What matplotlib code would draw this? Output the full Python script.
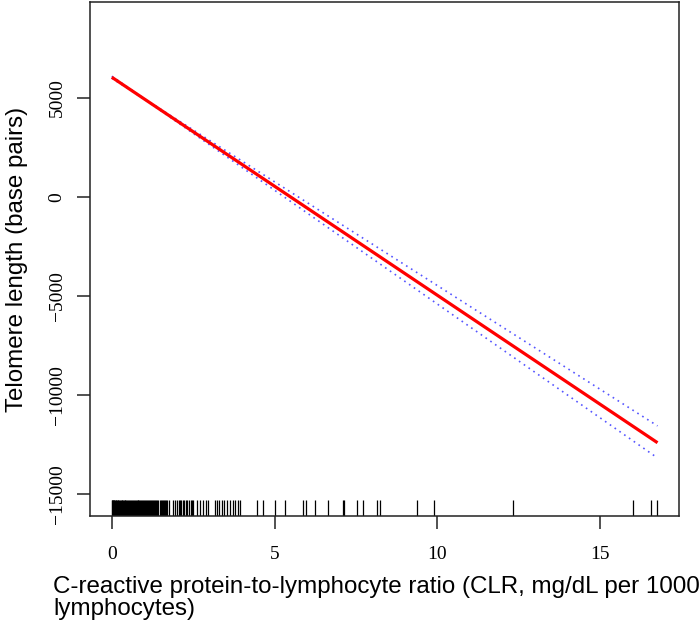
import matplotlib.pyplot as plt
import matplotlib.transforms as mtransforms

# fitted line and 95% CI
clr_x = [0.0, 16.77]
fit_y = [6050, -12410]
ci_x = [0.0, 1.0, 16.77]
ci_upper = [6100, 4960, -11560]
ci_lower = [6000, 4940, -13180]

# rug of observed CLR values
rug_x = [0.00, 0.02, 0.03, 0.05, 0.07, 0.08, 0.10, 0.12, 0.14, 0.16, 0.18, 0.20,
         0.22, 0.25, 0.27, 0.30, 0.32, 0.35, 0.37, 0.40, 0.42, 0.45, 0.48, 0.50,
         0.53, 0.55, 0.58, 0.61, 0.64, 0.67, 0.70, 0.73, 0.76, 0.79, 0.82, 0.85,
         0.88, 0.91, 0.94, 0.97, 1.00, 1.03, 1.06, 1.09, 1.12, 1.15, 1.18, 1.21,
         1.24, 1.27, 1.30, 1.33, 1.36, 1.40, 1.43, 1.47, 1.50, 1.54, 1.57, 1.61,
         1.64, 1.68, 1.71, 1.75, 1.89, 1.95, 2.00, 2.05, 2.09, 2.13, 2.18, 2.22,
         2.27, 2.32, 2.37, 2.42, 2.46, 2.51, 2.61, 2.71, 2.81, 2.90, 2.97, 3.17,
         3.22, 3.28, 3.38, 3.45, 3.53, 3.63, 3.72, 3.79, 3.89, 3.94, 4.45, 4.65,
         5.01, 5.32, 5.89, 5.97, 6.24, 6.65, 7.12, 7.14, 7.53, 7.71, 8.14, 8.23,
         9.37, 9.90, 12.34, 16.02, 16.56, 16.74]

xticks = [0, 5, 10, 15]
xtick_labels = ['0', '5', '10', '15']
yticks = [5000, 0, -5000, -10000, -15000]
ytick_labels = ['5000', '0', '\u22125000', '\u221210000', '\u221215000']

fig = plt.figure(figsize=(7, 6.21), dpi=100)
ax = fig.add_axes([90 / 700, 1 - 516 / 621, (679 - 90) / 700, (516 - 1.5) / 621])

ax.plot(ci_x, ci_upper, color='#5555ff', lw=1.2, linestyle=(0, (1, 2.5)))
ax.plot(ci_x, ci_lower, color='#5555ff', lw=1.2, linestyle=(0, (1, 2.5)))
ax.plot(clr_x, fit_y, color='red', lw=2.3, solid_capstyle='butt')

# rug along the bottom (x in data, height in axes fraction)
trans = mtransforms.blended_transform_factory(ax.transData, ax.transAxes)
ax.vlines(rug_x, 0, 0.031, transform=trans, color='black', lw=0.9)

ax.set_xlim(-0.67, 17.43)
ax.set_ylim(-16111, 9874)

ax.set_xticks(xticks)
ax.set_xticklabels(xtick_labels, family='Liberation Serif', fontsize=14)
ax.set_yticks(yticks)
ax.set_yticklabels(ytick_labels, family='Liberation Serif', fontsize=14,
                   rotation=90, va='center')
ax.tick_params(axis='both', length=9.5, width=1.1, color='#222222')
ax.tick_params(axis='x', pad=12)
ax.tick_params(axis='y', pad=8)

for sp in ax.spines.values():
    sp.set_linewidth(1.1)
    sp.set_color('#222222')

fig.text(53 / 700, 1 - 587 / 621,
         'C-reactive protein-to-lymphocyte ratio (CLR, mg/dL per 1000',
         family='Liberation Sans', fontsize=17.4, va='center', ha='left')
fig.text(53 / 700, 1 - 609 / 621, 'lymphocytes)',
         family='Liberation Sans', fontsize=17.4, va='center', ha='left')
fig.text(17 / 700, 1 - 259 / 621, 'Telomere length (base pairs)',
         family='Liberation Sans', fontsize=17.4, va='center', ha='center',
         rotation=90)

fig.savefig('out.png', dpi=100)
